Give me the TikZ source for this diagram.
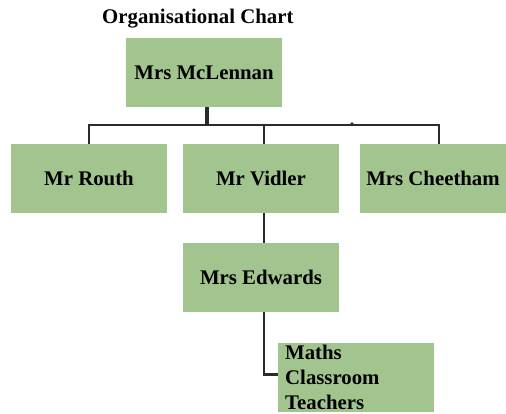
\documentclass[tikz,border=0pt]{standalone}
\usepackage{fontspec}
\setmainfont{Liberation Serif}
\definecolor{boxgreen}{HTML}{A2C48E}
\definecolor{linegray}{HTML}{2B2B2B}
\begin{document}
\begin{tikzpicture}[x=1pt,y=-1pt,
  lbl/.style={font=\fontsize{20.8}{25}\selectfont\bfseries},
  box/.style={lbl, fill=boxgreen, inner sep=0pt, minimum width=156pt, minimum height=69pt},
  conn/.style={draw=linegray, line width=2.3pt}]
\useasboundingbox (0,0) rectangle (506,414);
\node[lbl, anchor=base west, inner sep=0pt] (title) at (102,24) {Organisational Chart};
\node[box] (mcl) at (204,72.5) {Mrs McLennan};
\node[box] (routh) at (89,178.5) {Mr Routh};
\node[box] (vidler) at (261,178.5) {Mr Vidler};
\node[box, minimum width=146pt] (cheet) at (433,178.5) {Mrs Cheetham};
\node[box] (edw) at (261,277.5) {Mrs Edwards};
\node[lbl, fill=boxgreen, anchor=north west, align=left, text width=142pt,
      inner xsep=7pt, inner ysep=2pt] (maths) at (278,343) {Maths\\Classroom\\Teachers};
\coordinate (busL) at (89,125);
\coordinate (busR) at (439,125);
\draw[conn, line width=3.5pt] ([xshift=3pt]mcl.south) -- ([xshift=3pt]mcl.south |- busL);
\draw[conn] (routh.north) -- (busL) -- (busR) -- ([xshift=6pt]cheet.north);
\draw[conn] ([xshift=3pt]vidler.north) -- ([xshift=3pt]vidler.north |- busL);
\draw[conn] ([xshift=3pt]vidler.south) -- ([xshift=3pt]edw.north);
\draw[conn] ([xshift=3pt]edw.south) |- ([yshift=3pt]maths.west);
\fill[linegray] (352,124) circle (1.8pt);
\end{tikzpicture}
\end{document}
